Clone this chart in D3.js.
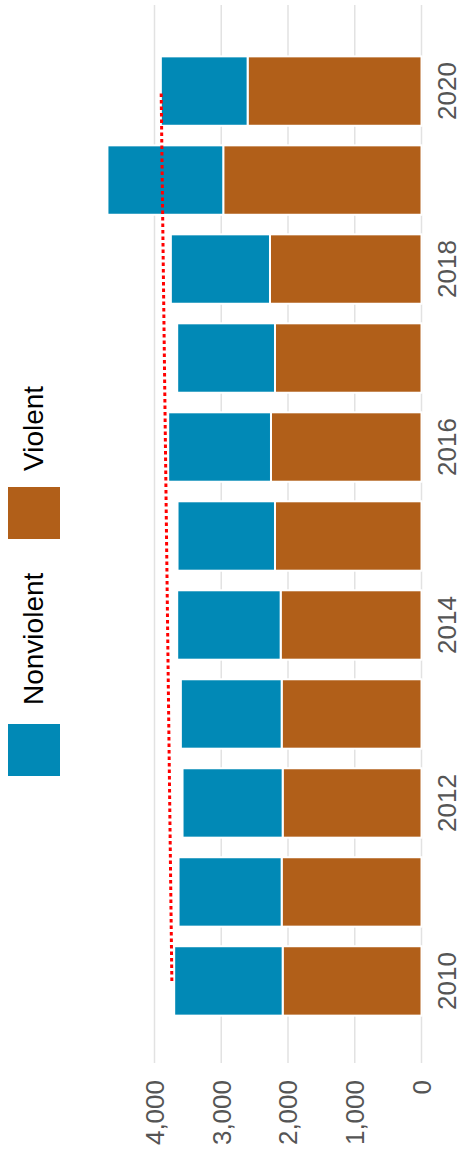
<!DOCTYPE html>
<html>
<head>
<meta charset="utf-8">
<script src="https://cdn.jsdelivr.net/npm/d3@7"></script>
<style>
  body { margin: 0; background: #fff; }
</style>
</head>
<body>
<svg></svg>
<script>
var years = [2010, 2011, 2012, 2013, 2014, 2015, 2016, 2017, 2018, 2019, 2020];
var violent = [2080, 2095, 2080, 2095, 2110, 2195, 2255, 2195, 2270, 2970, 2605];
var nonviolent = [1625, 1545, 1500, 1510, 1550, 1460, 1540, 1465, 1485, 1735, 1300];
var yearLabels = [2010, 2012, 2014, 2016, 2018, 2020];
var valueTicks = [0, 1000, 2000, 3000, 4000];
var trendYears = [2010, 2020];
var trendValues = [3740, 3900];
var seriesNames = ['Nonviolent', 'Violent'];
var colors = {Nonviolent: '#0189b6', Violent: '#b15f19'};

var W = 1159, H = 461;   // chart is drawn upright, then turned on its side
var svg = d3.select('svg').attr('width', H).attr('height', W);
var g = svg.append('g').attr('transform', 'translate(0,' + W + ') rotate(-90)');

var x = d3.scaleBand().domain(years).range([122, 1124]).paddingInner(0.22).paddingOuter(0.24);
var y = d3.scaleLinear().domain([0, 4000]).range([421.5, 154.5]);

// grid
g.selectAll('line.grid')
  .data(valueTicks)
  .enter()
  .append('line')
  .attr('class', 'grid')
  .attr('x1', 96).attr('x2', 1154)
  .attr('y1', d => y(d)).attr('y2', d => y(d))
  .attr('stroke', '#e2e2e2')
  .attr('stroke-width', 1.5);

var rows = years.map((yr, i) => ({year: yr, Violent: violent[i], Nonviolent: nonviolent[i]}));
var stacked = d3.stack().keys(['Violent', 'Nonviolent'])(rows);

g.selectAll('g.series')
  .data(stacked)
  .enter()
  .append('g')
  .attr('fill', d => colors[d.key])
  .selectAll('rect')
  .data(d => d)
  .enter()
  .append('rect')
  .attr('x', d => x(d.data.year))
  .attr('width', x.bandwidth())
  .attr('y', d => y(d[1]))
  .attr('height', d => y(d[0]) - y(d[1]))
  .attr('stroke', '#fff')
  .attr('stroke-width', 2);

// dotted trend line
g.append('line')
  .attr('x1', x(trendYears[0]) + x.bandwidth() / 2)
  .attr('x2', x(trendYears[1]) + x.bandwidth() / 2)
  .attr('y1', y(trendValues[0]))
  .attr('y2', y(trendValues[1]))
  .attr('stroke', '#ff0000')
  .attr('stroke-width', 3)
  .attr('stroke-dasharray', '3.5,3');

// value labels
g.selectAll('text.val')
  .data(valueTicks)
  .enter()
  .append('text')
  .text(d => d3.format(',')(d))
  .attr('x', 79)
  .attr('y', d => y(d))
  .attr('dy', '0.36em')
  .attr('text-anchor', 'end')
  .attr('fill', '#555')
  .attr('font-family', 'Liberation Sans, Arial, sans-serif')
  .attr('font-size', '26px');

// year labels
g.selectAll('text.yr')
  .data(yearLabels)
  .enter()
  .append('text')
  .text(d => d)
  .attr('x', d => x(d) + x.bandwidth() / 2)
  .attr('y', 456)
  .attr('text-anchor', 'middle')
  .attr('fill', '#555')
  .attr('font-family', 'Liberation Sans, Arial, sans-serif')
  .attr('font-size', '26px');

// legend
var legendX = {Nonviolent: 383, Violent: 620};
var legend = g.selectAll('g.legend')
  .data(seriesNames)
  .enter()
  .append('g')
  .attr('transform', d => 'translate(' + legendX[d] + ',8)');
legend.append('rect')
  .attr('width', 52).attr('height', 52)
  .attr('fill', d => colors[d]);
legend.append('text')
  .text(d => d)
  .attr('x', d => d === 'Violent' ? 68 : 71)
  .attr('y', 35)
  .attr('fill', '#000')
  .attr('font-family', 'Liberation Sans, Arial, sans-serif')
  .attr('font-size', '28px');
</script>
</body>
</html>
